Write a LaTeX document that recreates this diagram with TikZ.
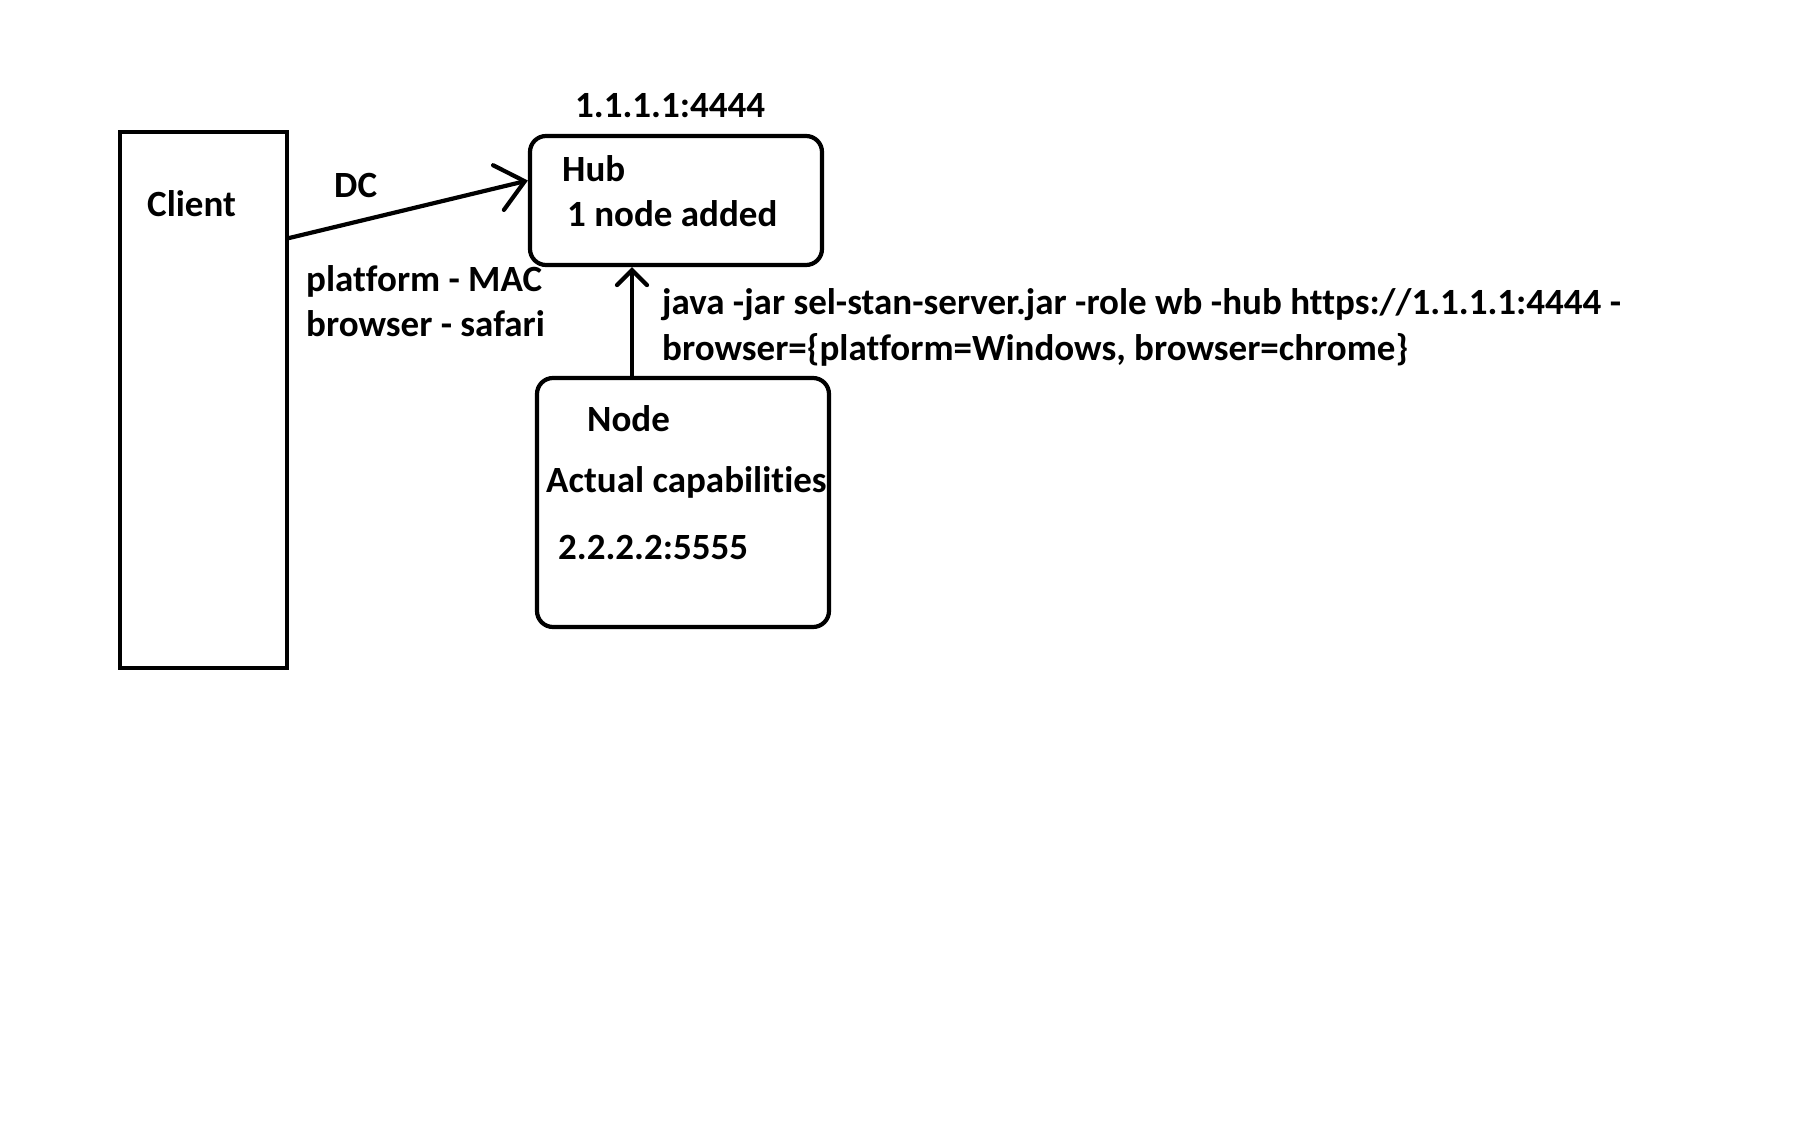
\documentclass[tikz,border=0pt]{standalone}
\usepackage{fontspec}
\setmainfont{Carlito}[Ligatures={NoCommon}]
\usetikzlibrary{arrows.meta}
\tikzset{
  txt/.style={anchor=base west, inner sep=0pt, font=\fontsize{37}{45}\selectfont\bfseries},
  boxsq/.style={draw, line width=4.5pt, inner sep=0pt},
  boxrd/.style={draw, line width=4.2pt, rounded corners=16pt, inner sep=0pt},
  arrdc/.style={line width=4.2pt, line cap=round, -{Straight Barb[length=27pt,width=46pt,line cap=round]}},
  arrup/.style={line width=4.2pt, line cap=round, -{Straight Barb[length=15pt,width=30pt,line cap=round]}}
}
\begin{document}
\begin{tikzpicture}[x=1pt,y=-1pt]
\useasboundingbox (0,0) rectangle (1799,1123);
% boxes
\node[boxsq, minimum width=167pt, minimum height=536pt] (client) at (203.5,400) {};
\node[boxrd, minimum width=292pt, minimum height=129pt] (hub) at (676,200.5) {};
\node[boxrd, minimum width=292pt, minimum height=249pt] (nodebox) at (683,502.5) {};
% texts
\node[txt] (tclient) at (147,217) {Client};
\node[txt] (tdc) at (334,198) {DC};
\node[txt] (thubip) at (575,118) {1.1.1.1:4444};
\node[txt] (thub) at (562,182) {Hub};
\node[txt] (tadded) at (567,227) {1 node added};
\node[txt] (tplat) at (306,292) {platform - MAC};
\node[txt] (tbrow) at (306,337) {browser - safari};
\node[txt] (tcmd1) at (662,315) {java -jar sel-stan-server.jar -role wb -hub https://1.1.1.1:4444 -};
\node[txt] (tcmd2) at (662,360) {browser=\{platform=Windows, browser=chrome\}};
\node[txt] (tnode) at (587,431) {Node};
\node[txt] (tcaps) at (546,492) {Actual capabilities};
\node[txt] (tnodeip) at (558,559) {2.2.2.2:5555};
% connectors
\draw[arrdc] ([yshift=162pt]client.east) -- ([yshift=20pt]hub.west);
\draw[arrup] ([xshift=-51pt]nodebox.north) -- ([xshift=-44pt]hub.south);
\end{tikzpicture}
\end{document}
